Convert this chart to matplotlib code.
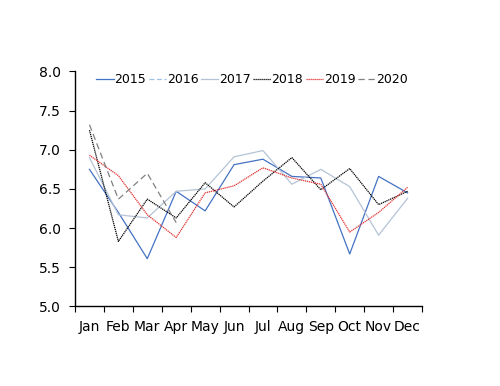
import numpy as np
import matplotlib.pyplot as plt

months = ['Jan', 'Feb', 'Mar', 'Apr', 'May', 'Jun', 'Jul', 'Aug', 'Sep', 'Oct', 'Nov', 'Dec']

# Werte
y2015 = [6.75, 6.20, 5.61, 6.47, 6.22, 6.81, 6.88, 6.66, 6.64, 5.67, 6.66, 6.45]
y2016 = []
y2017 = [6.90, 6.17, 6.13, 6.47, 6.50, 6.91, 6.99, 6.56, 6.75, 6.53, 5.91, 6.38]
y2018 = [7.25, 5.83, 6.37, 6.13, 6.58, 6.27, 6.60, 6.90, 6.49, 6.76, 6.30, 6.47]
y2019 = [6.93, 6.67, 6.17, 5.88, 6.45, 6.54, 6.77, 6.64, 6.56, 5.95, 6.20, 6.52]
y2020 = [7.32, 6.37, 6.70, 6.07]

series = [
    ('2015', y2015, '#4472c4', '-'),
    ('2016', y2016, '#9dc3e6', (0, (4, 2))),
    ('2017', y2017, '#b4c3d6', '-'),
    ('2018', y2018, '#000000', (0, (1, 0.6))),
    ('2019', y2019, '#e03030', (0, (1, 0.6))),
    ('2020', y2020, '#808080', (0, (5, 3))),
]

fig = plt.figure(figsize=(5, 3.86), dpi=100)
ax = fig.add_axes([0.15, 0.206, 0.694, 0.609])

for label, vals, col, ls in series:
    x = np.arange(len(vals))
    ax.plot(x, vals, color=col, linestyle=ls, linewidth=0.9, label=label)

ax.set_xlim(-0.5, 11.5)
ax.set_ylim(5.0, 8.0)
ax.set_yticks(np.arange(5.0, 8.01, 0.5))
ax.set_yticklabels(['%.1f' % v for v in np.arange(5.0, 8.01, 0.5)])
ax.set_xticks(np.arange(12))
ax.set_xticklabels(months)
ax.set_xticks(np.arange(-0.5, 12, 1), minor=True)
ax.tick_params(axis='x', which='major', length=0, pad=10, labelsize=10)
ax.tick_params(axis='x', which='minor', length=4, width=0.8, direction='out')
ax.tick_params(axis='y', length=4, width=0.8, direction='out', labelsize=10, pad=6)

for s in ['top', 'right']:
    ax.spines[s].set_visible(False)
for s in ['left', 'bottom']:
    ax.spines[s].set_linewidth(1.0)

ax.legend(loc='upper center', bbox_to_anchor=(0.51, 1.04), ncol=6, frameon=False,
          fontsize=9, handlelength=1.4, handletextpad=0.05, columnspacing=0.2)

fig.savefig('out.png', dpi=100)
